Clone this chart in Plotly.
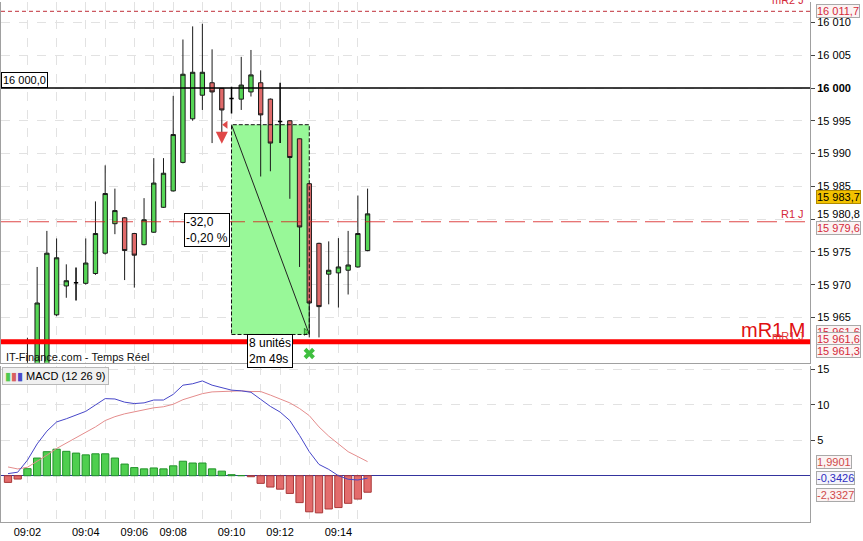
import plotly.graph_objects as go

# ---------------- data ----------------
bar_index = list(range(38))
opens = [15951.0, 15950.0, 15952.0, 15956.0, 15957.0, 15965.4, 15969.8, 15970.3, 15970.2, 15971.7,
         15974.8, 15979.3, 15980.2, 15977.8, 15976.1, 15978.0, 15981.8, 15984.3, 15988.65, 15995.3,
         15998.9, 16000.8, 15999.95, 15998.4, 15998.3, 15999.4, 16000.8, 15998.3, 15994.9, 15995.0,
         15992.25, 15985.4, 15976.3, 15971.6, 15971.8, 15972.2, 15972.7, 15975.2]
highs = [15953.0, 15954.0, 15961.9, 15972.7, 15978.2, 15977.05, 15973.1, 15972.6, 15977.05, 15982.7,
         15988.2, 15984.65, 15980.3, 15977.9, 15983.2, 15989.3, 15989.3, 15998.8, 16007.4, 16009.4,
         16009.8, 16005.9, 16000.0, 16000.2, 16004.75, 16005.8, 16002.7, 15998.4, 16000.8, 15995.1,
         15992.3, 15985.5, 15976.4, 15976.6, 15977.1, 15978.2, 15983.6, 15984.65]
lows = [15948.0, 15949.0, 15950.0, 15955.0, 15956.0, 15965.2, 15968.0, 15967.6, 15970.0, 15971.5,
        15974.6, 15977.7, 15970.7, 15969.55, 15976.0, 15977.9, 15981.7, 15984.2, 15988.5, 15995.0,
        15996.65, 15991.6, 15993.1, 15996.1, 15996.65, 15998.7, 15986.5, 15987.3, 15991.6, 15983.1,
        15972.7, 15961.95, 15961.95, 15967.0, 15966.5, 15968.5, 15972.6, 15975.1]
closes = [15950.0, 15952.0, 15957.0, 15967.2, 15974.8, 15974.1, 15970.6, 15970.3, 15973.3, 15977.8,
          15983.9, 15981.3, 15975.2, 15974.5, 15979.9, 15985.5, 15987.0, 15992.9, 16002.1, 16002.4,
          16002.4, 15999.4, 15996.65, 15998.4, 16000.45, 16002.0, 15995.9, 15991.6, 15994.9, 15989.4,
          15978.8, 15967.2, 15966.65, 15972.2, 15972.7, 15973.0, 15977.8, 15980.8]

macd_line = [0.3, 0.5, 2.2, 4.5, 6.3, 7.6, 8.05, 8.6, 9.1, 10.0,
             10.9, 10.85, 10.4, 10.2, 10.3, 10.7, 10.7, 11.5, 12.8, 13.0,
             13.4, 12.8, 12.5, 12.1, 12.0, 11.8, 10.8, 9.8, 9.0, 7.8,
             5.7, 3.4, 1.6, 0.9, 0.0, -0.5, -0.6, -0.3426]
signal_line = [1.24, 0.96, 1.2, 2.0, 2.9, 3.85, 4.6, 5.4, 6.15, 6.9,
               7.8, 8.35, 8.75, 9.05, 9.3, 9.6, 9.75, 10.1, 10.75, 11.2,
               11.6, 11.85, 11.9, 11.95, 12.0, 11.9, 11.9, 11.4, 10.9, 10.3,
               9.5, 8.5, 6.9, 5.6, 4.5, 3.4, 2.7, 1.9901]
macd_hist = [-0.94, -0.47, 1.0, 2.5, 3.4, 3.75, 3.45, 3.2, 2.95, 3.1,
             3.1, 2.5, 1.65, 1.15, 0.97, 1.1, 0.97, 1.4, 2.05, 1.8,
             1.8, 0.97, 0.65, 0.15, 0.02, -0.14, -1.08, -1.6, -1.9, -2.5,
             -3.8, -5.1, -5.25, -4.7, -4.5, -3.9, -3.3, -2.3327]

time_ticks = [2, 8, 13, 17, 23, 28, 34]
time_labels = ["09:02", "09:04", "09:06", "09:08", "09:10", "09:12", "09:14"]
minute_grid = [5, 10, 15, 20, 26, 31, 36]
price_ticks = [15965, 15970, 15975, 15980, 15985, 15990, 15995, 16000, 16005, 16010]
macd_ticks = [5, 10, 15]

level_round = 16000.0
level_mR2J = 16011.7
level_R1J = 15979.6
level_mR1M = 15961.3

measure_start_idx, measure_end_idx = 23, 31
measure_start_price, measure_end_price = 15994.4, 15962.4
measure_units_text = "8 unités<br>2m 49s"

sell_arrow_idx, sell_arrow_price = 22, 15991.5
exit_x_idx, exit_x_price = 31, 15959.5

# right-hand value labels: (value, decimals, text colour, bg, border, yshift, axis)
value_labels = [
    (16011.7, 1, "#d42a3a", "#fbf3f3", "#a9a9a9", 0, "y2"),
    (15983.7, 1, "#000000", "#f2c200", "#b08a00", -2, "y2"),
    (15980.8, 1, "#000000", "#ffffff", "rgba(0,0,0,0)", 0, "y2"),
    (15979.6, 1, "#d42a3a", "#fbf3f3", "#a9a9a9", -6, "y2"),
    (15961.6, 1, "#d42a3a", "#fbf3f3", "#a9a9a9", 8, "y2"),
    (15961.6, 1, "#d42a3a", "#fbf3f3", "#a9a9a9", 1, "y2"),
    (15961.3, 1, "#d42a3a", "#fbf3f3", "#a9a9a9", -9, "y2"),
    (1.9901, 4, "#d04a4a", "#fbf3f3", "#a9a9a9", 0, "y"),
    (-0.3426, 4, "#2c2cc0", "#f4f4fb", "#a9a9a9", 0, "y"),
    (-2.3327, 4, "#d04a4a", "#fbf3f3", "#a9a9a9", -3, "y"),
]

# ---------------- layout geometry ----------------
W, H = 863, 541
FONT = "Liberation Sans, Arial, sans-serif"
x_dom = [0, 810 / W]
main_dom = [1 - 362 / H, 1]
macd_dom = [1 - 522 / H, 1 - 365 / H]
x_range = [-0.72, 82.53]
price_range = [15958.10, 16013.12]
macd_range = [-6.55, 15.56]


def fr(v, d):
    s = f"{v:,.{d}f}"
    return s.replace(",", " ").replace(".", ",")


fig = go.Figure()

# ---- candles (non-doji) ----
reg = [i for i in bar_index if opens[i] != closes[i]]
doji = [i for i in bar_index if opens[i] == closes[i]]
fig.add_trace(go.Candlestick(
    x=reg, open=[opens[i] for i in reg], high=[highs[i] for i in reg],
    low=[lows[i] for i in reg], close=[closes[i] for i in reg],
    xaxis="x2", yaxis="y2", whiskerwidth=0,
    increasing=dict(fillcolor="#56d656", line=dict(color="#1a1a1a", width=1)),
    decreasing=dict(fillcolor="#e06a6a", line=dict(color="#1a1a1a", width=1)),
    hoverinfo="skip", showlegend=False))
fig.add_trace(go.Candlestick(
    x=doji, open=[opens[i] for i in doji], high=[highs[i] for i in doji],
    low=[lows[i] for i in doji], close=[closes[i] for i in doji],
    xaxis="x2", yaxis="y2", whiskerwidth=0,
    increasing=dict(fillcolor="#000000", line=dict(color="#000000", width=1.5)),
    decreasing=dict(fillcolor="#000000", line=dict(color="#000000", width=1.5)),
    hoverinfo="skip", showlegend=False))

# ---- signal markers ----
fig.add_trace(go.Scatter(
    x=[sell_arrow_idx], y=[sell_arrow_price], mode="markers", xaxis="x2", yaxis="y2",
    marker=dict(symbol="arrow-down", size=12, color="#e04848", line=dict(width=0)),
    hoverinfo="skip", showlegend=False))
fig.add_trace(go.Scatter(
    x=[measure_start_idx - 0.6], y=[measure_start_price], mode="markers", xaxis="x2", yaxis="y2",
    marker=dict(symbol="triangle-left", size=7, color="#e04848", line=dict(width=0)),
    hoverinfo="skip", showlegend=False))
fig.add_trace(go.Scatter(
    x=[exit_x_idx], y=[exit_x_price], mode="markers", xaxis="x2", yaxis="y2",
    marker=dict(symbol="x", size=10, color="#3fbf3f", line=dict(width=0)),
    hoverinfo="skip", showlegend=False))
fig.add_trace(go.Scatter(
    x=[measure_end_idx - 0.35], y=[measure_end_price + 0.4], mode="markers", xaxis="x2", yaxis="y2",
    marker=dict(symbol="triangle-right", size=6, color="#5ad85a", line=dict(width=0.8, color="#1f6f1f")),
    hoverinfo="skip", showlegend=False))

# ---- MACD panel ----
hist_colors = ["#4fcf4f" if v >= 0 else "#e36c6c" for v in macd_hist]
hist_lines = ["#23932a" if v >= 0 else "#a83838" for v in macd_hist]
fig.add_trace(go.Bar(
    x=bar_index, y=macd_hist, xaxis="x", yaxis="y", width=0.75,
    marker=dict(color=hist_colors, line=dict(color=hist_lines, width=1)),
    hoverinfo="skip", showlegend=False))
fig.add_trace(go.Scatter(
    x=bar_index, y=signal_line, mode="lines", xaxis="x", yaxis="y",
    line=dict(color="#e48c8c", width=1), hoverinfo="skip", showlegend=False))
fig.add_trace(go.Scatter(
    x=bar_index, y=macd_line, mode="lines", xaxis="x", yaxis="y",
    line=dict(color="#4646c8", width=1), hoverinfo="skip", showlegend=False))

# ---- shapes ----
shapes = []
shapes.append(dict(type="rect", xref="x2", yref="y2", x0=measure_start_idx, x1=measure_end_idx,
                   y0=measure_end_price, y1=measure_start_price, fillcolor="#98f898",
                   line=dict(width=0), layer="between"))
shapes.append(dict(type="line", xref="x2", yref="y2", x0=measure_start_idx, x1=measure_end_idx,
                   y0=measure_start_price, y1=measure_end_price, line=dict(color="#222222", width=1),
                   layer="between"))
shapes.append(dict(type="rect", xref="x2", yref="y2", x0=measure_start_idx, x1=measure_end_idx,
                   y0=measure_end_price, y1=measure_start_price, fillcolor="rgba(0,0,0,0)",
                   line=dict(color="#111111", width=1, dash="4px,2px"), layer="above"))
shapes.append(dict(type="line", xref="x2 domain", yref="y2", x0=0, x1=1, y0=level_round, y1=level_round,
                   line=dict(color="#000000", width=1.5), layer="above"))
shapes.append(dict(type="line", xref="x2 domain", yref="y2", x0=0, x1=1, y0=level_mR2J, y1=level_mR2J,
                   line=dict(color="#c0303a", width=1, dash="4px,3px"), layer="above"))
shapes.append(dict(type="line", xref="x2 domain", yref="y2", x0=0, x1=1, y0=level_R1J, y1=level_R1J,
                   line=dict(color="rgba(215,25,25,0.8)", width=1.2, dash="20px,8px"), layer="above"))
shapes.append(dict(type="line", xref="x2 domain", yref="y2", x0=0, x1=1, y0=level_mR1M, y1=level_mR1M,
                   line=dict(color="#ff0000", width=5), layer="above"))

# ---- annotations ----
ann = []
ann.append(dict(xref="x2", yref="y2", x=measure_start_idx, y=(measure_start_price + measure_end_price) / 2,
                xanchor="right", yanchor="middle", xshift=-2, align="left", showarrow=False,
                text=f"{fr(measure_end_price - measure_start_price, 1)}<br>"
                     f"{fr((measure_end_price - measure_start_price) / measure_start_price * 100, 2)} %",
                font=dict(family=FONT, size=12, color="#000"), bgcolor="#ffffff",
                bordercolor="#000000", borderwidth=1, borderpad=1))
ann.append(dict(xref="x2", yref="y2", x=(measure_start_idx + measure_end_idx) / 2, y=measure_end_price,
                xanchor="center", yanchor="top", align="left", showarrow=False,
                text=measure_units_text, font=dict(family=FONT, size=12, color="#000"),
                bgcolor="#ffffff", bordercolor="#000000", borderwidth=1, borderpad=1))
ann.append(dict(xref="paper", yref="y2", x=0, y=level_round, xanchor="left", yanchor="bottom",
                showarrow=False, text=fr(level_round, 1), font=dict(family=FONT, size=11, color="#000"),
                bgcolor="#ffffff", bordercolor="#000000", borderwidth=1, borderpad=1))
ann.append(dict(xref="paper", yref="y2", x=806 / W, y=level_mR2J, xanchor="right", yanchor="bottom",
                yshift=3, showarrow=False, text="mR2 J", font=dict(family=FONT, size=11, color="#d42a3a")))
ann.append(dict(xref="paper", yref="y2", x=806 / W, y=level_R1J, xanchor="right", yanchor="bottom",
                showarrow=False, text="R1 J", font=dict(family=FONT, size=11, color="#d42a3a")))
ann.append(dict(xref="paper", yref="y2", x=807 / W, y=level_mR1M, xanchor="right", yanchor="bottom",
                yshift=-1, showarrow=False, text="mR1 M", font=dict(family=FONT, size=20, color="#e01010")))
ann.append(dict(xref="paper", yref="y2", x=806 / W, y=level_mR1M, xanchor="right", yanchor="bottom",
                yshift=-2, showarrow=False, text="mR1 J", font=dict(family=FONT, size=11, color="#e03030")))
ann.append(dict(xref="paper", yref="paper", x=3 / W, y=1 - 356 / H, xanchor="left", yanchor="middle",
                showarrow=False, text="IT-Finance.com - Temps Réel",
                font=dict(family=FONT, size=11, color="#111")))
ann.append(dict(xref="paper", yref="paper", x=1 / W, y=1 - 375 / H, xanchor="left", yanchor="middle",
                showarrow=False,
                text="<span style='color:#4fc94f'>▮</span><span style='color:#d86060'>▮</span>"
                     "<span style='color:#4a4ac8'>▮</span> MACD (12 26 9)",
                font=dict(family=FONT, size=11, color="#000"), bgcolor="#f0f0f0",
                bordercolor="#b8b8b8", borderwidth=1, borderpad=2))
for v, d, col, bg, bc, ys, ax in value_labels:
    ann.append(dict(xref="paper", yref=ax, x=816 / W, y=v, xanchor="left", yanchor="middle", yshift=ys,
                    showarrow=False, text=fr(v, d), font=dict(family=FONT, size=11, color=col),
                    bgcolor=bg, bordercolor=bc, borderwidth=1, borderpad=0))

price_text = [f"<b>{fr(p, 0)}</b>" if p == level_round else fr(p, 0) for p in price_ticks]

grid_col = "#e2e2e2"
fig.update_layout(
    width=W, height=H, margin=dict(l=0, r=0, t=0, b=0),
    paper_bgcolor="#ffffff", plot_bgcolor="#ffffff",
    font=dict(family=FONT, size=11, color="#000"),
    boxgap=0.36, bargap=0.25, showlegend=False,
    xaxis=dict(domain=x_dom, anchor="y", range=x_range, tickvals=time_ticks, ticktext=time_labels,
               showgrid=True, gridcolor=grid_col, griddash="dash", zeroline=False, ticks="",
               showline=True, linecolor="#a0a0a0", tickfont=dict(size=11),
               minor=dict(tickvals=minute_grid, showgrid=True, gridcolor=grid_col, griddash="dash"),
               rangeslider=dict(visible=False)),
    xaxis2=dict(domain=x_dom, anchor="y2", range=x_range, tickvals=time_ticks, showticklabels=False,
                showgrid=True, gridcolor=grid_col, griddash="dash", zeroline=False, ticks="",
                showline=True, linecolor="#a0a0a0",
                minor=dict(tickvals=minute_grid, showgrid=True, gridcolor=grid_col, griddash="dash"),
                rangeslider=dict(visible=False)),
    yaxis=dict(domain=macd_dom, anchor="x", side="right", range=macd_range, tickvals=macd_ticks,
               showgrid=True, gridcolor=grid_col, griddash="dash", zeroline=True,
               zerolinecolor="#34349e", zerolinewidth=1, ticks="outside", ticklen=4, tickcolor="#444",
               showline=True, linecolor="#a0a0a0", mirror=True, tickfont=dict(size=11)),
    yaxis2=dict(domain=main_dom, anchor="x2", side="right", range=price_range, tickvals=price_ticks,
                ticktext=price_text, showgrid=True, gridcolor=grid_col, griddash="dash", zeroline=False,
                ticks="outside", ticklen=4, tickcolor="#444", showline=True, linecolor="#a0a0a0",
                mirror=True, tickfont=dict(size=11)),
    shapes=shapes, annotations=ann,
)

fig.write_html("out.html", config={"displayModeBar": False},
               post_script="document.body.style.margin='0';document.body.style.overflow='hidden';")
